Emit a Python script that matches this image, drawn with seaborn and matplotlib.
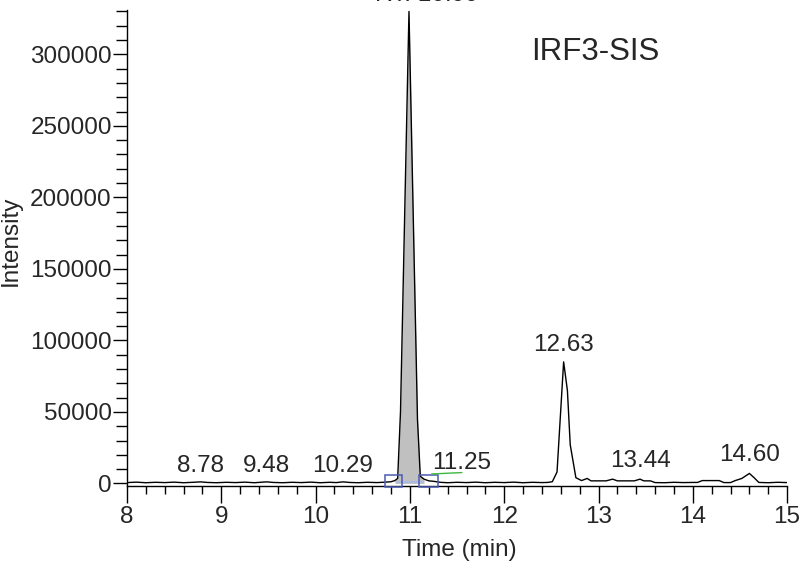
import matplotlib
matplotlib.use("Agg")
import matplotlib.pyplot as plt
from matplotlib.patches import Rectangle
from matplotlib.ticker import MultipleLocator, FuncFormatter
import numpy as np
import pandas as pd
import seaborn as sns

# Extracted-ion chromatogram: retention time (min) and intensity (counts)
rt_min = [
    8.00, 8.10, 8.20, 8.30, 8.40, 8.50, 8.60, 8.70, 8.78, 8.85, 8.95, 9.05,
    9.15, 9.25, 9.35, 9.48, 9.55, 9.65, 9.75, 9.85, 9.95, 10.05, 10.15, 10.22,
    10.29, 10.36, 10.45, 10.55, 10.65, 10.74,
    10.80, 10.84, 10.87, 10.90, 10.99, 11.08, 11.11, 11.15, 11.20, 11.25, 11.32,
    11.40, 11.50, 11.60, 11.70, 11.80, 11.90, 12.00, 12.10, 12.20, 12.30, 12.40,
    12.46,
    12.51, 12.56, 12.63, 12.67, 12.70, 12.76, 12.82, 12.88, 12.92,
    13.00, 13.08, 13.15, 13.20, 13.30, 13.38, 13.44, 13.48, 13.55, 13.60,
    13.70, 13.80, 13.90, 14.00, 14.05, 14.10, 14.20, 14.28, 14.33, 14.40, 14.45,
    14.52, 14.60, 14.65, 14.70, 14.80, 14.90, 15.00,
]
intensity = [
    600, 900, 500, 800, 600, 900, 500, 800, 1100, 700, 500, 800,
    600, 900, 500, 1100, 700, 500, 800, 600, 900, 500, 800, 600,
    1100, 700, 500, 800, 600, 900,
    1200, 2000, 3500, 50000, 330000, 45000, 5000, 3000, 1800, 1500, 800,
    500, 800, 600, 900, 500, 800, 600, 900, 500, 800, 600,
    700,
    1200, 8000, 85000, 65000, 27000, 4000, 2000, 3500, 1800,
    1800, 1800, 3000, 1800, 1800, 1800, 3000, 1800, 1800, 600,
    500, 800, 600, 700, 700, 2000, 2000, 2000, 600, 600, 2000,
    3500, 7000, 4000, 700, 500, 800, 600,
]

# Integrated peak window and apex annotations
peak_start, peak_end = 10.84, 11.15
peak_labels = ["8.78", "9.48", "10.29", "12.63", "13.44", "14.60"]
peak_label_x = [8.78, 9.48, 10.29, 12.63, 13.44, 14.60]
peak_label_y = [12200, 12200, 12200, 96800, 15700, 19900]

sns.set_style("ticks")
plt.rcParams["font.family"] = ["Liberation Sans", "DejaVu Sans"]

df = pd.DataFrame({"rt": rt_min, "intensity": intensity})

fig = plt.figure(figsize=(8.04, 5.69), dpi=100)
ax = fig.add_axes([0.158, 0.1466, 0.821, 0.8358])

# shaded area of the integrated peak
sel = (df["rt"] >= peak_start) & (df["rt"] <= peak_end)
ax.fill_between(df.loc[sel, "rt"], 0, df.loc[sel, "intensity"],
                color="#c0c0c0", lw=0, zorder=1)

sns.lineplot(data=df, x="rt", y="intensity", ax=ax, color="black",
             lw=1.0, estimator=None, sort=False, zorder=3)

# integration baseline and boundary boxes
ax.plot([10.86, 11.14], [900, 900], color="#a8b8e8", lw=1.2, zorder=2)
for x0, w in [(10.735, 0.18), (11.10, 0.20)]:
    ax.add_patch(Rectangle((x0, -2300), w, 8300, fill=False,
                           edgecolor="#4a5cb4", lw=1.1, zorder=4,
                           clip_on=False))

# leader line for the offset label
ax.plot([11.23, 11.55], [6600, 7600], color="#3cb83c", lw=1.0, zorder=4)

fs = 17.5
for txt, x, y in zip(peak_labels, peak_label_x, peak_label_y):
    ax.text(x, y, txt, ha="center", va="center", fontsize=fs)
ax.text(11.55, 14000, "11.25", ha="center", va="center", fontsize=fs)
ax.text(11.18, 341600, "RT: 10.99", ha="center", va="center", fontsize=fs,
        clip_on=False)
ax.text(12.97, 301700, "IRF3-SIS", ha="center", va="center", fontsize=22.5)

ax.set_xlim(8, 15)
ax.set_ylim(-1500, 331000)
ax.xaxis.set_major_locator(MultipleLocator(1))
ax.xaxis.set_minor_locator(MultipleLocator(0.2))
ax.yaxis.set_major_locator(MultipleLocator(50000))
ax.yaxis.set_minor_locator(MultipleLocator(10000))
ax.yaxis.set_major_formatter(FuncFormatter(lambda v, p: f"{int(round(v))}"))
ax.xaxis.set_major_formatter(FuncFormatter(lambda v, p: f"{int(round(v))}"))

ax.tick_params(axis="x", which="major", length=12, width=1.0, pad=3,
               labelsize=fs, color="black")
ax.tick_params(axis="x", which="minor", length=5.5, width=1.0, color="black")
ax.tick_params(axis="y", which="major", length=10, width=1.0, pad=1,
               labelsize=fs, color="black")
ax.tick_params(axis="y", which="minor", length=8, width=1.0, color="black")

for side in ["top", "right"]:
    ax.spines[side].set_visible(False)
for side in ["left", "bottom"]:
    ax.spines[side].set_linewidth(1.0)
    ax.spines[side].set_color("black")

ax.set_xlabel("Time (min)", fontsize=fs)
ax.set_ylabel("Intensity", fontsize=fs)
ax.xaxis.set_label_coords(0.503, -0.112)
ax.yaxis.set_label_coords(-0.159, 0.514)

fig.savefig("out.png", dpi=100)
